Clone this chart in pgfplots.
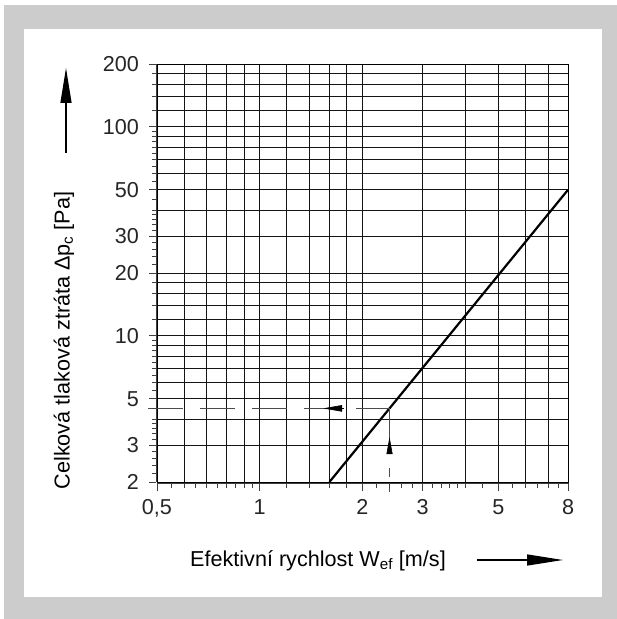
\documentclass[border=0pt]{standalone}
\usepackage{fontspec}
\setmainfont{Liberation Sans}
\usepackage{pgfplots}
\pgfplotsset{compat=1.18}
\usetikzlibrary{arrows.meta}
\definecolor{bg}{HTML}{CCCCCC}
\newcommand{\bigfont}{\fontsize{21.6bp}{25bp}\selectfont}
\begin{document}
\begin{tikzpicture}[x=1bp,y=1bp,font=\bigfont]
\useasboundingbox (-157,-137) rectangle (460,482);
\fill[bg] (-153,-137) rectangle (460,477);
\fill[white] (-133,-115) rectangle (445,453);

% main grid axis
\begin{axis}[at={(0,0)}, anchor=south west, scale only axis,
  width=411bp, height=418bp,
  xmode=log, ymode=log, xmin=0.5, xmax=8, ymin=2, ymax=200,
  xtick={0.5,0.6,0.7,0.8,0.9,1,1.2,1.4,1.6,1.8,2,3,4,5,6,7,8},
  ytick={2,3,4,5,6,7,8,9,10,12,14,16,18,20,30,40,50,60,70,80,90,100,120,140,160,180,200},
  xticklabels={}, yticklabels={},
  major tick length=0pt,
  grid=major, grid style={black!92, line width=0.8bp},
  axis line style={black, line width=0.9bp},
  clip=false]
\addplot[black, line width=2.2bp] coordinates {(1.6,2) (8,50)};
\addplot[black!70, line width=1bp, dash pattern=on 35bp off 17bp] coordinates {(0.4706,4.5) (2.4,4.5)};
\addplot[black!70, line width=1bp, dash pattern=on 44bp off 16bp on 9bp off 10bp on 6bp] coordinates {(2.4,4.5) (2.4,1.791)};
\addplot[black, line width=0.6bp, -{Triangle[length=19bp,width=6.5bp]}] coordinates {(1.76,4.5) (1.534,4.5)};
\addplot[black, line width=0.6bp, -{Triangle[length=17bp,width=6bp]}] coordinates {(2.4,2.76) (2.4,3.28)};
\end{axis}

% x scale
\begin{axis}[at={(0,-10)}, anchor=south west, scale only axis,
  width=411bp, height=10bp,
  xmode=log, xmin=0.5, xmax=8, ymin=0, ymax=1,
  axis y line=none, axis x line*=bottom,
  axis line style={black!75, line width=0.8bp, -},
  xtick={0.5,1,2,3,5,8}, xticklabels={{0,5},1,2,3,5,8},
  minor xtick={0.55,0.6,0.65,0.7,0.75,0.8,0.85,0.9,0.95,1.2,1.4,1.6,1.8,2.2,2.4,2.6,2.8,3.2,3.4,3.6,3.8,4,4.5,5.5,6,6.5,7,7.5},
  tick align=outside, major tick length=8bp, minor tick length=5bp,
  tick style={black!75, line width=0.8bp},
  xticklabel style={inner sep=0pt, anchor=north, yshift=-8bp, font=\bigfont, text=black!85}]
\end{axis}

% y scale
\begin{axis}[at={(-9,0)}, anchor=south west, scale only axis,
  width=10bp, height=418bp,
  ymode=log, ymin=2, ymax=200, xmin=0, xmax=1,
  axis x line=none, axis y line*=left,
  axis line style={black!75, line width=0.8bp, -},
  ytick={2,3,5,10,20,30,50,100,200}, yticklabels={2,3,5,10,20,30,50,100,200},
  minor ytick={2.2,2.4,2.6,2.8,3.2,3.4,3.6,3.8,4,4.5,5.5,6,6.5,7,7.5,8,8.5,9,9.5,12,14,16,18,22,24,26,28,32,34,36,38,40,45,55,60,65,70,75,80,85,90,95,120,140,160,180},
  tick align=outside, major tick length=7bp, minor tick length=4bp,
  tick style={black!75, line width=0.8bp},
  yticklabel style={inner sep=0pt, anchor=east, xshift=-10bp, font=\bigfont, text=black!85}]
\end{axis}

\node[rotate=90, anchor=center] at (-93,141.5) {Celková tlaková ztráta Δp\textsubscript{c} [Pa]};
\node[anchor=base] at (161,-84) {Efektivní rychlost W\textsubscript{ef} [m/s]};
\draw[line width=1.3bp, -{Triangle[length=35bp,width=11bp]}] (-91,329) -- (-91,414);
\draw[line width=1.3bp, -{Triangle[length=36bp,width=11bp]}] (320,-78) -- (406,-78);
\end{tikzpicture}
\end{document}
